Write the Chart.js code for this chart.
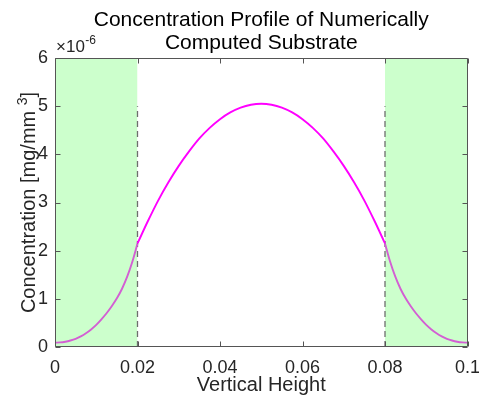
<!DOCTYPE html>
<html>
<head>
<meta charset="utf-8">
<script src="https://cdn.jsdelivr.net/npm/chart.js@4.4.0/dist/chart.umd.min.js"></script>
<style>
  html, body { margin: 0; padding: 0; background: #fff; }
  canvas { display: block; }
</style>
</head>
<body>
<canvas id="chart" width="479" height="402"></canvas>
<script>
const titleLines = ["Concentration Profile of Numerically", "Computed Substrate"];
const xLabel = "Vertical Height";
const yLabel = ["Concentration [mg/mm", "3", "]"];
const yExponent = ["\u00d710", "-6"];

const xTicks = [0, 0.02, 0.04, 0.06, 0.08, 0.1];
const yTicks = [0, 1, 2, 3, 4, 5, 6];

// concentration values are in units of 1e-6 mg/mm^3
const heightLeft = [0, 0.00125, 0.0025, 0.00375, 0.005, 0.00625, 0.0075, 0.00875, 0.01,
  0.01125, 0.0125, 0.01375, 0.015, 0.01625, 0.0175, 0.01875, 0.02];
const concLeft = [0.09, 0.095, 0.11, 0.135, 0.17, 0.22, 0.285, 0.365, 0.46,
  0.575, 0.70, 0.845, 1.01, 1.21, 1.46, 1.77, 2.15];

const heightMid = [0.02, 0.0225, 0.025, 0.0275, 0.03, 0.0325, 0.035, 0.0375, 0.04, 0.0425, 0.045, 0.0475,
  0.05, 0.0525, 0.055, 0.0575, 0.06, 0.0625, 0.065, 0.0675, 0.07, 0.0725, 0.075, 0.0775, 0.08];
const concMid = [2.15, 2.61, 3.04, 3.42, 3.76, 4.06, 4.33, 4.55, 4.73, 4.87, 4.97, 5.03,
  5.05, 5.03, 4.97, 4.87, 4.73, 4.55, 4.33, 4.06, 3.76, 3.42, 3.04, 2.61, 2.15];

const heightRight = [0.08, 0.08125, 0.0825, 0.08375, 0.085, 0.08625, 0.0875, 0.08875, 0.09,
  0.09125, 0.0925, 0.09375, 0.095, 0.09625, 0.0975, 0.09875, 0.1];
const concRight = [2.15, 1.77, 1.46, 1.21, 1.01, 0.845, 0.70, 0.575, 0.46,
  0.365, 0.285, 0.22, 0.17, 0.135, 0.11, 0.095, 0.09];

const bandStart = [0, 0.08];
const bandEnd = [0.02, 0.1];
const bandTop = 6;
const dividers = [0.02, 0.08];
const dividerTop = 5;

const FONT = "'Liberation Sans', Arial, sans-serif";
const TEXT = "#262626";

function toPoints(xs, ys) {
  return xs.map((x, i) => ({ x: x, y: ys[i] }));
}

const curveStyle = {
  pointRadius: 0,
  borderWidth: 1.9,
  cubicInterpolationMode: "monotone",
  fill: false
};

const datasets = [
  { ...curveStyle, data: toPoints(heightMid, concMid), borderColor: "#ff00ff", order: 0 },
  { ...curveStyle, data: toPoints(heightLeft, concLeft), borderColor: "#d35fd3", order: 0 },
  { ...curveStyle, data: toPoints(heightRight, concRight), borderColor: "#d35fd3", order: 0 }
];

dividers.forEach(d => {
  datasets.push({
    data: [{ x: d, y: 0 }, { x: d, y: dividerTop }],
    borderColor: "#6e6e6e",
    borderWidth: 1.3,
    borderDash: [6, 4],
    pointRadius: 0,
    fill: false,
    order: 1
  });
});

bandStart.forEach((s, i) => {
  datasets.push({
    data: [{ x: s, y: bandTop }, { x: bandEnd[i], y: bandTop }],
    borderWidth: 0,
    borderColor: "rgba(0,0,0,0)",
    backgroundColor: "#ccffcc",
    pointRadius: 0,
    fill: "origin",
    order: 2
  });
});

const framePlugin = {
  id: "frame",
  afterDatasetsDraw(chart) {
    const { ctx, chartArea: a, scales } = chart;
    const L = Math.round(a.left) + 0.5, R = Math.round(a.right) - 0.5;
    const T = Math.round(a.top) + 0.5, B = Math.round(a.bottom) - 0.5;
    ctx.save();
    ctx.strokeStyle = "#555";
    ctx.lineWidth = 1;
    ctx.beginPath();
    ctx.rect(L, T, R - L, B - T);
    xTicks.forEach(v => {
      const px = Math.round(scales.x.getPixelForValue(v)) + 0.5;
      ctx.moveTo(px, B); ctx.lineTo(px, B - 5);
      ctx.moveTo(px, T); ctx.lineTo(px, T + 5);
    });
    yTicks.forEach(v => {
      const py = Math.round(scales.y.getPixelForValue(v)) + 0.5;
      ctx.moveTo(L, py); ctx.lineTo(L + 5, py);
      ctx.moveTo(R, py); ctx.lineTo(R - 5, py);
    });
    ctx.stroke();
    ctx.restore();
  },
  afterDraw(chart) {
    const { ctx, chartArea: a } = chart;
    const cx = (a.left + a.right) / 2;
    const cy = (a.top + a.bottom) / 2;
    ctx.save();
    ctx.fillStyle = "#000";
    ctx.textAlign = "center";
    ctx.textBaseline = "alphabetic";
    ctx.font = "21px " + FONT;
    ctx.fillText(titleLines[0], cx, 26);
    ctx.fillText(titleLines[1], cx, 49);

    ctx.fillStyle = TEXT;
    ctx.font = "20px " + FONT;
    ctx.fillText(xLabel, cx, 391);

    // y label with superscript
    ctx.save();
    ctx.translate(34.5, cy);
    ctx.rotate(-Math.PI / 2);
    ctx.font = "20px " + FONT;
    const w0 = ctx.measureText(yLabel[0] + " ").width;
    const w2 = ctx.measureText(yLabel[2]).width;
    ctx.font = "14px " + FONT;
    const w1 = ctx.measureText(yLabel[1]).width;
    let sx = -(w0 + w1 + w2) / 2;
    ctx.textAlign = "left";
    ctx.font = "20px " + FONT;
    ctx.fillText(yLabel[0], sx, 0);
    ctx.font = "14px " + FONT;
    ctx.fillText(yLabel[1], sx + w0, -8);
    ctx.font = "20px " + FONT;
    ctx.fillText(yLabel[2], sx + w0 + w1, 0);
    ctx.restore();

    // exponent marker
    ctx.textAlign = "left";
    ctx.font = "17px " + FONT;
    ctx.fillText(yExponent[0], 56, 52);
    const ew = ctx.measureText(yExponent[0]).width;
    ctx.font = "12px " + FONT;
    ctx.fillText(yExponent[1], 56 + ew + 0.5, 44);
    ctx.restore();
  }
};

new Chart(document.getElementById("chart"), {
  type: "line",
  data: { datasets: datasets },
  plugins: [framePlugin],
  options: {
    responsive: false,
    animation: false,
    events: [],
    layout: { padding: { left: 0, right: 11.5, top: 58, bottom: 0 } },
    plugins: { legend: { display: false }, tooltip: { enabled: false } },
    scales: {
      x: {
        type: "linear",
        min: 0,
        max: 0.1,
        afterBuildTicks: s => { s.ticks = xTicks.map(v => ({ value: v })); },
        afterFit: s => { s.height = 55; s.paddingLeft = 0; s.paddingRight = 0; },
        grid: { display: false, drawTicks: false },
        border: { display: false },
        ticks: {
          padding: 10,
          color: TEXT,
          font: { family: FONT, size: 18 },
          maxRotation: 0,
          callback: v => String(+v.toFixed(2))
        }
      },
      y: {
        type: "linear",
        min: 0,
        max: 6,
        afterBuildTicks: s => { s.ticks = yTicks.map(v => ({ value: v })); },
        afterFit: s => { s.width = 55; s.paddingTop = 0; s.paddingBottom = 0; },
        grid: { display: false, drawTicks: false },
        border: { display: false },
        ticks: {
          padding: 7,
          color: TEXT,
          font: { family: FONT, size: 18 },
          callback: v => String(v)
        }
      }
    }
  }
});
</script>
</body>
</html>
